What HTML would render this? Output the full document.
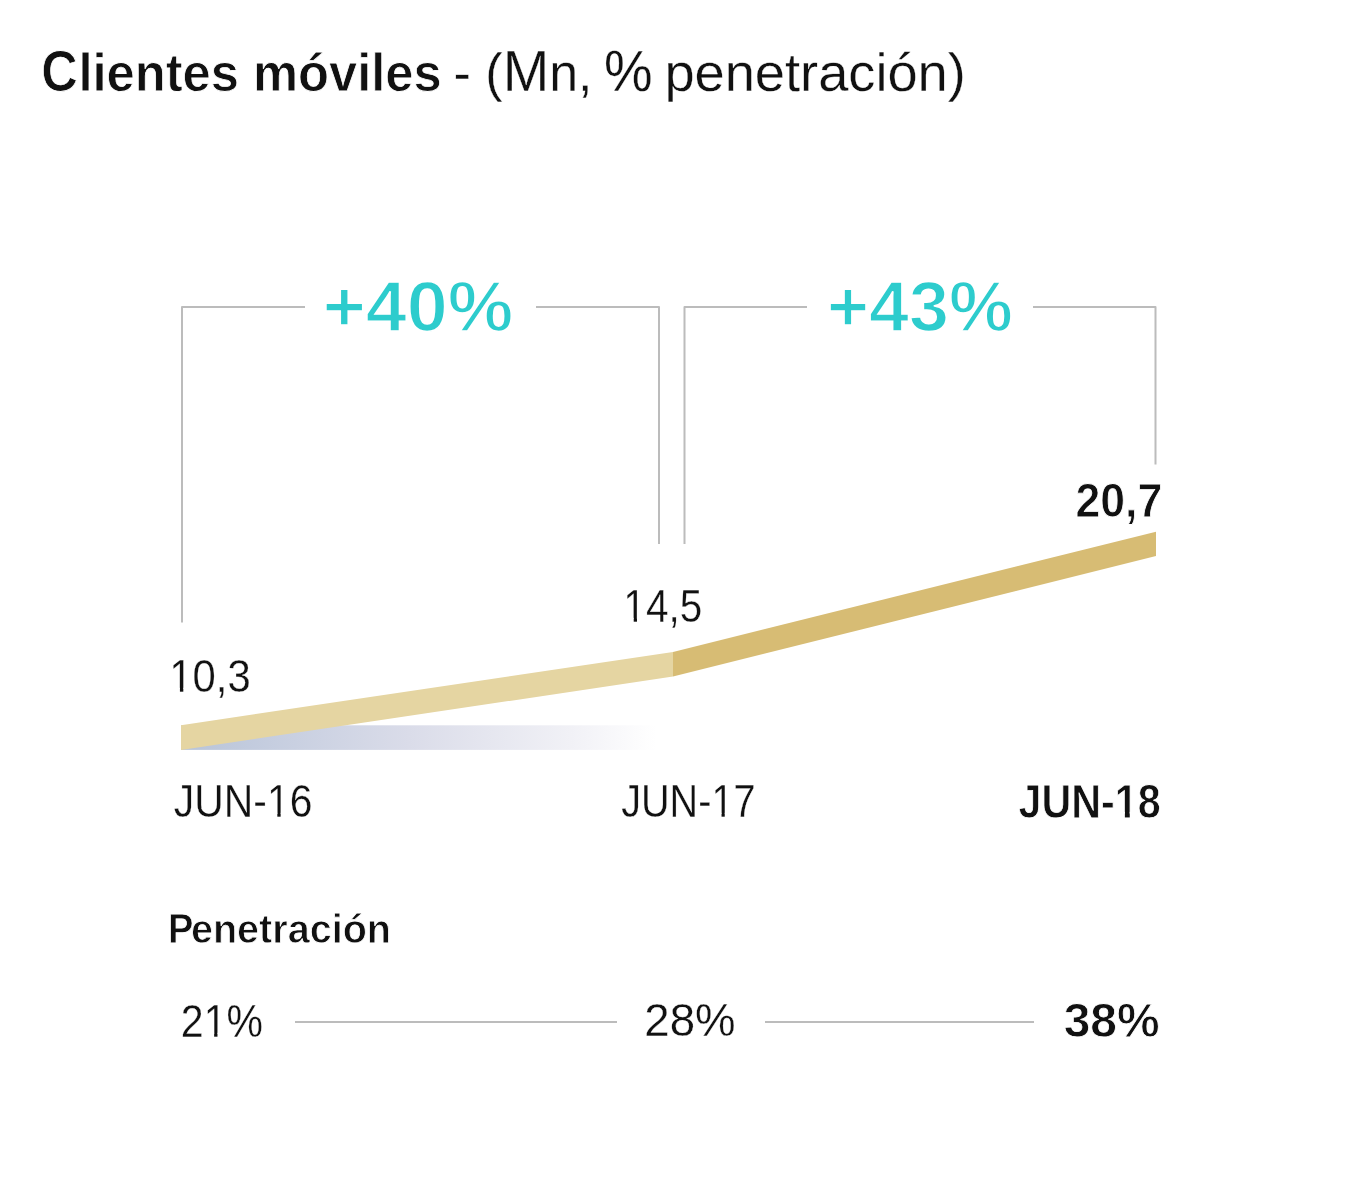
<!DOCTYPE html>
<html><head><meta charset="utf-8"><style>
html,body{margin:0;padding:0;background:#fff;}
svg{display:block;will-change:transform;font-family:"Liberation Sans",sans-serif;}
</style></head><body>
<svg width="1355" height="1181" viewBox="0 0 1355 1181">
<rect width="1355" height="1181" fill="#ffffff"/>

<polyline points="182,622.5 182,307 305,307" fill="none" stroke="#bcbcbc" stroke-width="2" stroke-linejoin="round"/>
<polyline points="536,307 659,307 659,544" fill="none" stroke="#bcbcbc" stroke-width="2" stroke-linejoin="round"/>
<polyline points="684.5,544 684.5,307 807,307" fill="none" stroke="#bcbcbc" stroke-width="2" stroke-linejoin="round"/>
<polyline points="1033,307 1155.5,307 1155.5,464.5" fill="none" stroke="#bcbcbc" stroke-width="2" stroke-linejoin="round"/>
<line x1="295" y1="1022" x2="617" y2="1022" stroke="#bcbcbc" stroke-width="2"/>
<line x1="765" y1="1022" x2="1034" y2="1022" stroke="#bcbcbc" stroke-width="2"/>


<defs><linearGradient id="gr" x1="0" y1="0" x2="1" y2="0">
<stop offset="0" stop-color="#b8c4d9"/><stop offset="0.48" stop-color="#dadce9"/><stop offset="0.82" stop-color="#f1f1f6"/><stop offset="1" stop-color="#ffffff"/></linearGradient></defs>
<rect x="181" y="725.3" width="475" height="24.6" fill="url(#gr)"/>
<polygon points="181,725.2 673,652 673,676.5 181,750" fill="#e5d5a2"/>
<polygon points="673,652 1156,531.7 1156,556 673,676.5" fill="#d7bc74"/>

<text x="41.17" y="91.40" font-size="57.85" font-weight="700" fill="#111111" stroke="#ffffff" stroke-width="0.8" textLength="36.43" lengthAdjust="spacingAndGlyphs">C</text>
<text x="78.40" y="91.40" font-size="57.85" font-weight="700" fill="#111111" stroke="#ffffff" stroke-width="0.8" textLength="363.36" lengthAdjust="spacingAndGlyphs"><tspan font-size="53.80">lientes móviles</tspan></text>
<text x="453.61" y="91.15" font-size="57.12" font-weight="400" fill="#111111" stroke="#ffffff" stroke-width="0.3" textLength="138.95" lengthAdjust="spacingAndGlyphs"><tspan font-size="53.12">- (</tspan>M<tspan font-size="53.12">n,</tspan></text>
<text x="603.88" y="91.15" font-size="57.12" font-weight="400" fill="#111111" stroke="#ffffff" stroke-width="0.3" textLength="48.62" lengthAdjust="spacingAndGlyphs">%</text>
<text x="664.40" y="91.15" font-size="57.12" font-weight="400" fill="#111111" stroke="#ffffff" stroke-width="0.3" textLength="301.46" lengthAdjust="spacingAndGlyphs"><tspan font-size="53.12">penetración)</tspan></text>
<text x="322.70" y="331.00" font-size="70.20" font-weight="700" fill="#2dcccd" stroke="#ffffff" stroke-width="1.6" textLength="190.51" lengthAdjust="spacingAndGlyphs">+40%</text>
<text x="827.02" y="331.00" font-size="70.20" font-weight="700" fill="#2dcccd" stroke="#ffffff" stroke-width="1.6" textLength="185.79" lengthAdjust="spacingAndGlyphs">+43%</text>
<text x="169.25" y="692.15" font-size="46.95" font-weight="400" fill="#111111" stroke="#ffffff" stroke-width="0.3" textLength="81.39" lengthAdjust="spacingAndGlyphs">10,3</text>
<text x="623.37" y="622.15" font-size="46.51" font-weight="400" fill="#111111" stroke="#ffffff" stroke-width="0.3" textLength="78.84" lengthAdjust="spacingAndGlyphs">14,5</text>
<text x="1075.39" y="516.50" font-size="47.53" font-weight="700" fill="#111111" stroke="#ffffff" stroke-width="0.8" textLength="86.87" lengthAdjust="spacingAndGlyphs">20,7</text>
<text x="173.80" y="817.15" font-size="46.51" font-weight="400" fill="#111111" stroke="#ffffff" stroke-width="0.3" textLength="138.58" lengthAdjust="spacingAndGlyphs">JUN-16</text>
<text x="621.21" y="817.15" font-size="46.51" font-weight="400" fill="#111111" stroke="#ffffff" stroke-width="0.3" textLength="134.29" lengthAdjust="spacingAndGlyphs">JUN-17</text>
<text x="1018.43" y="817.50" font-size="47.38" font-weight="700" fill="#111111" stroke="#ffffff" stroke-width="0.8" textLength="142.36" lengthAdjust="spacingAndGlyphs">JUN-18</text>
<text x="168.02" y="942.60" font-size="43.17" font-weight="700" fill="#111111" stroke="#ffffff" stroke-width="0.8" textLength="25.40" lengthAdjust="spacingAndGlyphs">P</text>
<text x="190.92" y="942.60" font-size="43.17" font-weight="700" fill="#111111" stroke="#ffffff" stroke-width="0.8" textLength="200.06" lengthAdjust="spacingAndGlyphs"><tspan font-size="40.15">enetración</tspan></text>
<text x="180.85" y="1037.15" font-size="46.95" font-weight="400" fill="#111111" stroke="#ffffff" stroke-width="0.3" textLength="82.15" lengthAdjust="spacingAndGlyphs">21%</text>
<text x="644.35" y="1036.15" font-size="46.95" font-weight="400" fill="#111111" stroke="#ffffff" stroke-width="0.3" textLength="91.26" lengthAdjust="spacingAndGlyphs">28%</text>
<text x="1063.64" y="1036.80" font-size="48.26" font-weight="700" fill="#111111" stroke="#ffffff" stroke-width="0.8" textLength="96.02" lengthAdjust="spacingAndGlyphs">38%</text>
<rect x="171.44" y="687.84" width="8.48" height="5.81" fill="#ffffff"/>
<rect x="183.31" y="687.84" width="8.15" height="5.81" fill="#ffffff"/>
<rect x="625.46" y="617.88" width="8.25" height="5.77" fill="#ffffff"/>
<rect x="636.99" y="617.88" width="7.94" height="5.77" fill="#ffffff"/>
<rect x="269.01" y="812.88" width="8.32" height="5.77" fill="#ffffff"/>
<rect x="280.65" y="812.88" width="8.00" height="5.77" fill="#ffffff"/>
<rect x="713.44" y="812.88" width="8.10" height="5.77" fill="#ffffff"/>
<rect x="724.74" y="812.88" width="7.79" height="5.77" fill="#ffffff"/>
<rect x="1116.43" y="811.86" width="8.44" height="7.14" fill="#ffffff"/>
<rect x="1129.75" y="811.86" width="7.92" height="7.14" fill="#ffffff"/>
<rect x="205.79" y="1032.84" width="8.35" height="5.81" fill="#ffffff"/>
<rect x="217.47" y="1032.84" width="8.03" height="5.81" fill="#ffffff"/>
</svg>
</body></html>
